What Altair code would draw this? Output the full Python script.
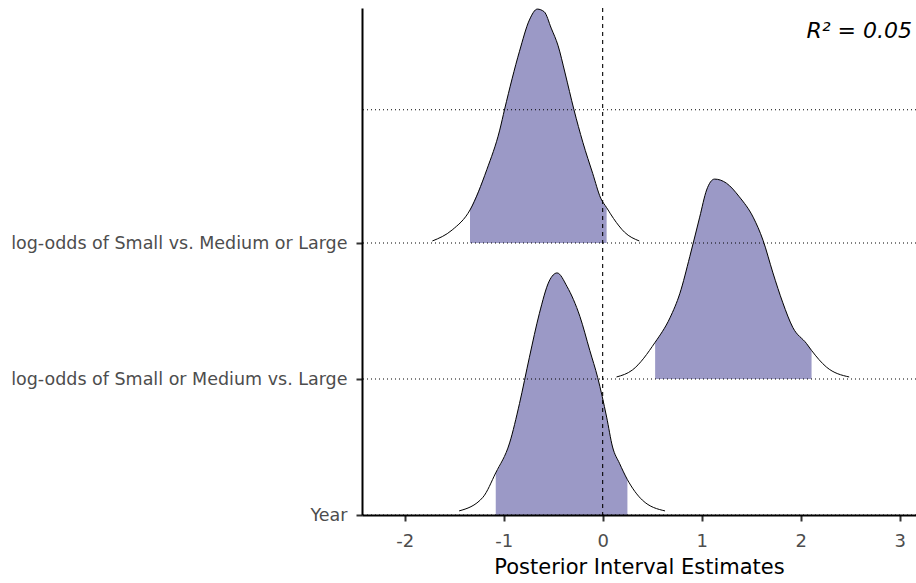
import altair as alt
import pandas as pd

# Parameters, bottom to top, and the vertical slot each ridge sits on
params = [
    "Year",
    "log-odds of Small or Medium vs. Large",
    "log-odds of Small vs. Medium or Large",
]
levels = [0, 1, 2]

# Posterior density outlines (x value, ridge height in slot units)
year_x = [-1.45, -1.21, -1.08, -0.94, -0.84, -0.74, -0.64, -0.54, -0.46, -0.36,
          -0.23, -0.13, -0.05, 0.04, 0.10, 0.17, 0.25, 0.40, 0.63]
year_h = [0.03, 0.13, 0.31, 0.53, 0.82, 1.16, 1.48, 1.72, 1.78, 1.68,
          1.46, 1.21, 1.01, 0.72, 0.50, 0.38, 0.26, 0.11, 0.03]

smvl_x = [0.14, 0.30, 0.53, 0.68, 0.78, 0.88, 0.98, 1.05, 1.13, 1.25,
          1.38, 1.52, 1.62, 1.72, 1.82, 1.92, 2.06, 2.11, 2.26, 2.49]
smvl_h = [0.015, 0.066, 0.27, 0.45, 0.63, 0.90, 1.19, 1.39, 1.47, 1.44,
          1.34, 1.19, 1.02, 0.78, 0.56, 0.38, 0.26, 0.21, 0.088, 0.015]

svml_x = [-1.72, -1.52, -1.34, -1.17, -1.04, -0.99, -0.84, -0.74, -0.66, -0.59,
          -0.52, -0.45, -0.38, -0.29, -0.20, -0.10, -0.02, 0.04, 0.11, 0.22, 0.37]
svml_h = [0.015, 0.096, 0.243, 0.54, 0.83, 0.985, 1.41, 1.64, 1.72, 1.70,
          1.58, 1.45, 1.25, 0.98, 0.74, 0.51, 0.33, 0.26, 0.18, 0.08, 0.015]

# Shaded posterior intervals (low, high)
interval_lo = [-1.08, 0.53, -1.34]
interval_hi = [0.25, 2.11, 0.04]

# Horizontal dotted guides and tick values
guide_y = [0, 1, 2, 2.98]
x_ticks = [-2, -1, 0, 1, 2, 3]
annotation = "R² = 0.05"

FONT = "DejaVu Sans"
FILL = "#9b99c6"

curves = [(year_x, year_h), (smvl_x, smvl_h), (svml_x, svml_h)]
rows = []
for name, lvl, (xs, hs), lo, hi in zip(params, levels, curves, interval_lo, interval_hi):
    for x, h in zip(xs, hs):
        rows.append({"param": name, "x": x, "top": lvl + h, "base": lvl,
                     "inside": lo <= x <= hi})
dens = pd.DataFrame(rows)

xscale = alt.Scale(domain=[-2.431, 3.165], nice=False, zero=False)
yscale = alt.Scale(domain=[0, 3.728], nice=False, zero=False)

label_expr = " : ".join(
    f"datum.value == {lvl} ? '{name}'" for lvl, name in zip(levels[:-1], params[:-1])
) + f" : '{params[-1]}'"

x_axis = alt.Axis(
    title="Posterior Interval Estimates", values=x_ticks, labelExpr="'' + datum.value",
    grid=False, domainColor="black", domainWidth=2, tickColor="#333333", tickWidth=2,
    tickSize=6, labelPadding=11, labelFont=FONT, labelFontSize=18,
    labelColor="#4d4d4d", titleFont=FONT, titleFontSize=21, titleFontWeight="normal",
    titleColor="black", titleBaseline="alphabetic", titleY=58, zindex=1,
)
y_axis = alt.Axis(
    title=None, values=levels, labelExpr=label_expr, grid=False, domainColor="black",
    domainWidth=2, tickColor="#333333", tickWidth=2, tickSize=6, labelPadding=9,
    labelFont=FONT, labelFontSize=17.5, labelColor="#4d4d4d", labelLimit=0, zindex=1,
)

base = alt.Chart(dens)

area = base.transform_filter("datum.inside").mark_area(
    color=FILL, opacity=1, interpolate="monotone"
).encode(
    x=alt.X("x:Q", scale=xscale, axis=x_axis),
    y=alt.Y("top:Q", scale=yscale, axis=y_axis),
    y2="base:Q",
    detail="param:N",
)

outline = base.mark_line(color="black", strokeWidth=1, interpolate="monotone").encode(
    x=alt.X("x:Q", scale=xscale),
    y=alt.Y("top:Q", scale=yscale),
    detail="param:N",
    order="x:Q",
)

guides = alt.Chart(pd.DataFrame({"gy": guide_y})).mark_rule(
    color="black", strokeWidth=1.1, strokeDash=[1, 3]
).encode(y=alt.Y("gy:Q", scale=yscale))

zero_line = alt.Chart(pd.DataFrame({"gx": [0]})).mark_rule(
    color="black", strokeWidth=1.1, strokeDash=[4, 4]
).encode(x=alt.X("gx:Q", scale=xscale))

note = alt.Chart(pd.DataFrame({"t": [annotation]})).mark_text(
    font=FONT, fontSize=22, fontStyle="italic", align="right", baseline="alphabetic",
    color="black",
).encode(x=alt.value(550), y=alt.value(30), text="t:N")

chart = alt.layer(area, outline, guides, zero_line, note).properties(
    width=554, height=507,
    autosize=alt.AutoSizeParams(type="none"),
    padding={"left": 362, "top": 8, "right": 0, "bottom": 68},
    background="white",
).configure_view(stroke=None)

chart.save("out.html", embed_options={"renderer": "svg", "actions": False})
